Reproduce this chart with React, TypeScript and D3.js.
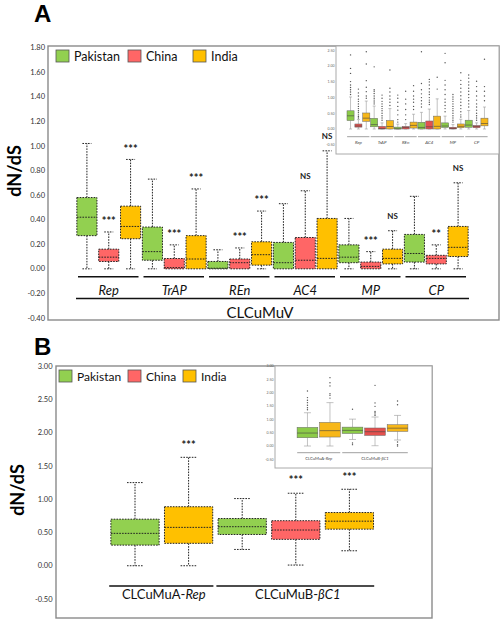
import React from "react";
import * as d3 from "d3";

// ---------- shared ----------
const countries = ["Pakistan", "China", "India"];
const countryColors = ["#92D050", "#FF6666", "#FFC000"];
const insetColors = ["#8CCB48", "#E4504E", "#F7B719"];

// ---------- Panel A (CLCuMuV) ----------
const genesA = ["Rep", "TrAP", "REn", "AC4", "MP", "CP"];
const ticksA = [-0.4, -0.2, 0, 0.2, 0.4, 0.6, 0.8, 1.0, 1.2, 1.4, 1.6, 1.8];
// order: gene-major, within gene Pakistan, China, India
const loA = [0, 0, 0, 0, 0, 0, 0, 0, 0, 0, 0, 0, 0, 0, 0, 0, 0, 0];
const q1A = [0.27, 0.06, 0.245, 0.07, 0, 0, 0, 0, 0.03, 0, 0, 0, 0.05, 0, 0.04, 0.055, 0.04, 0.1];
const medA = [0.42, 0.095, 0.345, 0.14, 0.01, 0.08, 0.005, 0.05, 0.115, 0.05, 0.07, 0.085, 0.095, 0.02, 0.085, 0.125, 0.085, 0.175];
const q3A = [0.58, 0.16, 0.51, 0.34, 0.084, 0.27, 0.06, 0.08, 0.22, 0.215, 0.255, 0.41, 0.195, 0.055, 0.16, 0.28, 0.11, 0.345];
const hiA = [1.02, 0.3, 0.89, 0.73, 0.195, 0.65, 0.155, 0.17, 0.47, 0.53, 0.635, 0.96, 0.41, 0.14, 0.31, 0.59, 0.195, 0.7];
const sigA = ["", "***", "***", "", "***", "***", "", "***", "***", "", "NS", "NS", "", "***", "NS", "", "**", "NS"];
// inset A outliers
const insetTicksA = [-0.5, 0, 0.5, 1.0, 1.5, 2.0, 2.5];
const outA: number[][] = [
  [2.36, 1.93, 1.77, 1.51, 1.4, 1.32, 1.25, 1.18, 1.1],
  [1.27, 1.15, 1.05, 0.95, 0.88, 0.8, 0.72, 0.65, 0.58, 0.52, 0.45, 0.4, 0.35],
  [2.46, 2.07, 1.54, 1.33, 1.19, 1.05, 0.98],
  [1.98, 1.25, 1.2, 1.13, 1.05, 0.98, 0.92, 0.86, 0.8],
  [1.08, 0.98, 0.88, 0.8, 0.72, 0.65, 0.58, 0.5, 0.42, 0.35, 0.28],
  [1.88, 1.3, 1.18, 1.05, 0.95, 0.85, 0.75],
  [1.08, 0.98, 0.85, 0.72, 0.6, 0.45, 0.3, 0.22],
  [1.2, 0.95, 0.8, 0.62, 0.45, 0.3],
  [1.38, 1.2, 1.05, 0.95, 0.85, 0.72, 0.62],
  [2.46, 1.45, 1.25, 1.12, 1.0, 0.9, 0.8, 0.7],
  [1.58, 1.5, 1.4, 1.28, 1.18, 1.1, 1.0, 0.92, 0.85, 0.78],
  [1.65, 1.27],
  [2.41, 2.11, 1.55, 1.4, 1.25, 1.1, 0.95, 0.85, 0.75, 0.65, 0.55],
  [1.1, 1.02, 0.95, 0.88, 0.8, 0.72, 0.65, 0.58, 0.5, 0.42, 0.35, 0.28, 0.22],
  [1.79, 1.55, 1.42, 1.3, 1.18, 1.06, 0.95, 0.85, 0.75, 0.65, 0.55, 0.45, 0.38],
  [1.72, 1.62, 1.5, 1.4, 1.3, 1.2, 1.1, 1.0, 0.9, 0.8, 0.7],
  [1.52, 1.35, 1.2, 1.05, 0.92, 0.8, 0.7, 0.6, 0.5, 0.42, 0.35, 0.28],
  [2.22, 1.35, 1.2, 1.05, 0.9],
];

// ---------- Panel B (betasatellite / alphasatellite) ----------
const groupsB = [
  { pre: "CLCuMuA-", it: "Rep", n: 2 },
  { pre: "CLCuMuB-", it: "βC1", n: 3 },
];
const slotCountryB = [0, 2, 0, 1, 2];
const ticksB = [-0.5, 0, 0.5, 1.0, 1.5, 2.0, 2.5, 3.0];
const loB = [0, 0, 0.245, 0.01, 0.225];
const q1B = [0.31, 0.337, 0.47, 0.397, 0.55];
const medB = [0.487, 0.577, 0.587, 0.537, 0.67];
const q3B = [0.7, 0.887, 0.71, 0.677, 0.8];
const hiB = [1.25, 1.63, 1.01, 1.09, 1.15];
const sigB = ["", "***", "", "***", "***"];
const insetTicksB = [-0.5, 0, 0.5, 1.0, 1.5, 2.0, 2.5, 3.0];
const outB: number[][] = [
  [2.07, 1.82, 1.72, 1.63, 1.53, 1.44, 1.36],
  [2.57, 2.38, 2.26, 1.97, 1.91, 1.8],
  [1.38, 0.11, 0.05],
  [2.28, 1.62, 1.49, 1.3, 1.25, 1.2, 1.15],
  [1.69, 1.55, 0.15, 0.05, 0.0],
];

const FONT = "Lato, 'Open Sans', sans-serif";
const fmt = (v: number) => v.toFixed(2);
const DOT = "1.6 1.2";

function MainBox({ x, w, y, lo, q1, med, q3, hi, color, cap }: any) {
  const cxp = x + w / 2;
  return (
    <g>
      <line x1={cxp} x2={cxp} y1={y(q3)} y2={y(hi)} stroke="#222" strokeDasharray={DOT} />
      <line x1={cxp - cap} x2={cxp + cap} y1={y(hi)} y2={y(hi)} stroke="#222" strokeDasharray={DOT} />
      {lo < q1 && (
        <>
          <line x1={cxp} x2={cxp} y1={y(q1)} y2={y(lo)} stroke="#222" strokeDasharray={DOT} />
          <line x1={cxp - cap} x2={cxp + cap} y1={y(lo)} y2={y(lo)} stroke="#222" strokeDasharray={DOT} />
        </>
      )}
      <rect x={x} y={y(q3)} width={w} height={Math.max(0.5, y(q1) - y(q3))} fill={color} stroke="#222" strokeDasharray={DOT} />
      <line x1={x} x2={x + w} y1={y(med)} y2={y(med)} stroke="#222" strokeDasharray={DOT} />
    </g>
  );
}

function InsetBox({ x, w, y, lo, q1, med, q3, hi, color, cap, outs }: any) {
  const cxp = x + w / 2;
  return (
    <g>
      <line x1={cxp} x2={cxp} y1={y(q3)} y2={y(hi)} stroke="#999" strokeWidth={0.6} />
      <line x1={cxp - cap} x2={cxp + cap} y1={y(hi)} y2={y(hi)} stroke="#999" strokeWidth={0.6} />
      <line x1={cxp} x2={cxp} y1={y(q1)} y2={y(lo)} stroke="#999" strokeWidth={0.6} />
      <line x1={cxp - cap} x2={cxp + cap} y1={y(lo)} y2={y(lo)} stroke="#999" strokeWidth={0.6} />
      <rect x={x} y={y(q3)} width={w} height={Math.max(0.8, y(q1) - y(q3))} fill={color} stroke="#666" strokeWidth={0.5} />
      <line x1={x} x2={x + w} y1={y(med)} y2={y(med)} stroke="#444" strokeWidth={0.6} />
      {outs.map((o: number, k: number) => (
        <circle key={k} cx={cxp} cy={y(o)} r={0.7} fill="#555" />
      ))}
    </g>
  );
}

function Legend({ x0, y0, size, fs, gaps }: any) {
  return (
    <g>
      {countries.map((c, i) => (
        <g key={c} transform={`translate(${gaps[i]},0)`}>
          <rect x={x0} y={y0} width={size} height={size - 1} fill={countryColors[i]} stroke="#555" strokeWidth={0.8} />
          <text x={x0 + size + 5} y={y0 + size - 2} fontSize={fs} fontFamily={FONT} fill="#111">{c}</text>
        </g>
      ))}
    </g>
  );
}

export default function App() {
  // ---- Panel A scales ----
  const frameA = { l: 48, r: 499, t: 46, b: 320 };
  const yA = d3.scaleLinear().domain([-0.4, 1.8]).range([318, 47.6]);
  const gA = d3.scaleBand<string>().domain(genesA).range([76, 469]).padding(0);
  const cA = d3.scaleBand<string>().domain(countries).range([0, gA.bandwidth()]).paddingInner(0.08).paddingOuter(0.04);

  // inset A
  const inA = { l: 336, r: 499, t: 46, b: 154 };
  const yIA = d3.scaleLinear().domain([-0.5, 2.5]).range([144.7, 50.5]);
  const gIA = d3.scaleBand<string>().domain(genesA).range([346.6, 488.4]).padding(0);
  const cIA = d3.scaleBand<string>().domain(countries).range([0, gIA.bandwidth()]).paddingInner(0.1).paddingOuter(0.05);

  // ---- Panel B scales ----
  const frameB = { l: 56, r: 432, t: 366, b: 618 };
  const yB = d3.scaleLinear().domain([-0.5, 3.0]).range([599, 366.2]);
  const sB = d3.scaleBand<number>().domain(d3.range(5)).range([108.2, 376.2]).paddingInner(0.1).paddingOuter(0.05);
  const inB = { l: 275, r: 432, t: 366, b: 468 };
  const yIB = d3.scaleLinear().domain([-0.5, 3.0]).range([459.3, 366.2]);
  const sIB = d3.scaleBand<number>().domain(d3.range(5)).range([296.2, 408.8]).paddingInner(0.08).paddingOuter(0.04);

  let slotStart = 0;
  const groupSpansB = groupsB.map((g) => {
    const a = slotStart;
    slotStart += g.n;
    return { ...g, a, b: slotStart - 1 };
  });
  const slotEdge = (s: any, i: number, side: number) => {
    const step = s.step();
    const c = (s(i) as number) + s.bandwidth() / 2;
    return c + (side * step) / 2;
  };

  return (
    <svg width={500} height={620} style={{ position: "absolute", left: 0, top: 0, display: "block", background: "#fff" }}>
      {/* ================= Panel A ================= */}
      <text x={34} y={22} fontSize={24} fontWeight="bold" fontFamily="'Liberation Sans', Arial, sans-serif">A</text>
      <rect x={frameA.l} y={frameA.t} width={frameA.r - frameA.l} height={frameA.b - frameA.t} fill="#fff" stroke="#8a8a8a" strokeWidth={1.4} />
      {ticksA.map((t) => (
        <text key={t} x={45} y={yA(t)} dy="0.35em" textAnchor="end" fontSize={7.5} fontFamily={FONT} fill="#333">{fmt(t)}</text>
      ))}
      <text transform="translate(21,171) rotate(-90)" textAnchor="middle" fontSize={18} fontWeight="bold" fontFamily={FONT}>dN/dS</text>
      <Legend x0={56} y0={50} size={13} fs={12.5} gaps={[0, 72, 137]} />

      {genesA.map((g, gi) =>
        countries.map((c, ci) => {
          const i = gi * 3 + ci;
          const x = (gA(g) as number) + (cA(c) as number);
          const w = cA.bandwidth();
          return (
            <g key={g + c}>
              <MainBox x={x} w={w} y={yA} lo={loA[i]} q1={q1A[i]} med={medA[i]} q3={q3A[i]} hi={hiA[i]} color={countryColors[ci]} cap={4.5} />
              {sigA[i] && (
                <text x={x + w / 2} y={yA(hiA[i]) - 15} dy={sigA[i] === "NS" ? "0.35em" : "0.75em"} textAnchor="middle" fontSize={sigA[i] === "NS" ? 8 : 11} fontWeight="bold" fontFamily={FONT} fill="#222">{sigA[i]}</text>
              )}
            </g>
          );
        })
      )}
      {genesA.map((g) => {
        const x0 = gA(g) as number;
        const x1 = x0 + gA.bandwidth();
        return (
          <g key={"u" + g}>
            <line x1={x0 + 2} x2={x1 - 3} y1={276.7} y2={276.7} stroke="#111" strokeWidth={1.6} />
            <text x={(x0 + x1) / 2} y={295} textAnchor="middle" fontSize={13} fontStyle="italic" fontFamily={FONT} fill="#111">{g}</text>
          </g>
        );
      })}
      <line x1={76} x2={469} y1={298.5} y2={298.5} stroke="#111" strokeWidth={1.4} />
      <text x={260} y={317.5} textAnchor="middle" fontSize={15} fontFamily={FONT} fill="#111">CLCuMuV</text>

      {/* inset A */}
      <rect x={inA.l} y={inA.t} width={inA.r - inA.l} height={inA.b - inA.t} fill="#fff" stroke="#aaa" strokeWidth={1} />
      {insetTicksA.map((t) => (
        <text key={t} x={334.5} y={yIA(t)} dy="0.35em" textAnchor="end" fontSize={3.5} fontFamily={FONT} fill="#666">{fmt(t)}</text>
      ))}
      {genesA.map((g, gi) =>
        countries.map((c, ci) => {
          const i = gi * 3 + ci;
          const x = (gIA(g) as number) + (cIA(c) as number);
          return (
            <InsetBox key={"ia" + i} x={x} w={cIA.bandwidth()} y={yIA} lo={loA[i]} q1={q1A[i]} med={medA[i]} q3={q3A[i]} hi={hiA[i]} color={insetColors[ci]} cap={1.5} outs={outA[i]} />
          );
        })
      )}
      {genesA.map((g) => {
        const x0 = gIA(g) as number;
        const x1 = x0 + gIA.bandwidth();
        return (
          <g key={"iu" + g}>
            <line x1={x0 + 0.5} x2={x1 - 0.8} y1={136.7} y2={136.7} stroke="#888" strokeWidth={0.8} />
            <text x={(x0 + x1) / 2} y={143.5} textAnchor="middle" fontSize={4.5} fontStyle="italic" fontFamily={FONT} fill="#444">{g}</text>
          </g>
        );
      })}

      {/* ================= Panel B ================= */}
      <text x={34} y={355} fontSize={24} fontWeight="bold" fontFamily="'Liberation Sans', Arial, sans-serif">B</text>
      <rect x={frameB.l} y={frameB.t} width={frameB.r - frameB.l} height={frameB.b - frameB.t} fill="#fff" stroke="#8a8a8a" strokeWidth={1.4} />
      {ticksB.map((t) => (
        <text key={t} x={52.5} y={yB(t)} dy="0.35em" textAnchor="end" fontSize={7.5} fontFamily={FONT} fill="#333">{fmt(t)}</text>
      ))}
      <text transform="translate(24,490) rotate(-90)" textAnchor="middle" fontSize={18} fontWeight="bold" fontFamily={FONT}>dN/dS</text>
      <Legend x0={59} y0={370} size={13} fs={12} gaps={[0, 69, 124]} />

      {/* inset B (drawn before main boxes so stars stay on top) */}
      <rect x={inB.l} y={inB.t} width={inB.r - inB.l} height={inB.b - inB.t} fill="#fff" stroke="#aaa" strokeWidth={1} />
      {insetTicksB.map((t) => (
        <text key={t} x={273.5} y={yIB(t)} dy="0.35em" textAnchor="end" fontSize={3.5} fontFamily={FONT} fill="#666">{fmt(t)}</text>
      ))}
      {slotCountryB.map((ci, i) => (
        <InsetBox key={"ib" + i} x={sIB(i) as number} w={sIB.bandwidth()} y={yIB} lo={loB[i]} q1={q1B[i]} med={medB[i]} q3={q3B[i]} hi={hiB[i]} color={insetColors[ci]} cap={3.5} outs={outB[i]} />
      ))}
      {groupSpansB.map((g) => {
        const x0 = slotEdge(sIB, g.a, -1);
        const x1 = slotEdge(sIB, g.b, 1);
        return (
          <g key={"ibu" + g.pre}>
            <line x1={x0 + 1} x2={x1 - 1} y1={452.7} y2={452.7} stroke="#888" strokeWidth={0.8} />
            <text x={(x0 + x1) / 2} y={459.5} textAnchor="middle" fontSize={4.2} fontFamily={FONT} fill="#444">
              {g.pre}<tspan fontStyle="italic">{g.it}</tspan>
            </text>
          </g>
        );
      })}

      {slotCountryB.map((ci, i) => {
        const x = sB(i) as number;
        const w = sB.bandwidth();
        return (
          <g key={"b" + i}>
            <MainBox x={x} w={w} y={yB} lo={loB[i]} q1={q1B[i]} med={medB[i]} q3={q3B[i]} hi={hiB[i]} color={countryColors[ci]} cap={8} />
            {sigB[i] && (
              <text x={x + w / 2} y={yB(hiB[i]) - 17} dy="0.75em" textAnchor="middle" fontSize={11} fontWeight="bold" fontFamily={FONT} fill="#222">{sigB[i]}</text>
            )}
          </g>
        );
      })}
      {groupSpansB.map((g) => {
        const x0 = slotEdge(sB, g.a, -1);
        const x1 = slotEdge(sB, g.b, 1);
        return (
          <g key={"bu" + g.pre}>
            <line x1={x0 + 1} x2={x1 - 2} y1={586} y2={586} stroke="#111" strokeWidth={1.6} />
            <text x={(x0 + x1) / 2 + 2} y={599} textAnchor="middle" fontSize={13} fontFamily={FONT} fill="#111">
              {g.pre}<tspan fontStyle="italic">{g.it}</tspan>
            </text>
          </g>
        );
      })}
    </svg>
  );
}
